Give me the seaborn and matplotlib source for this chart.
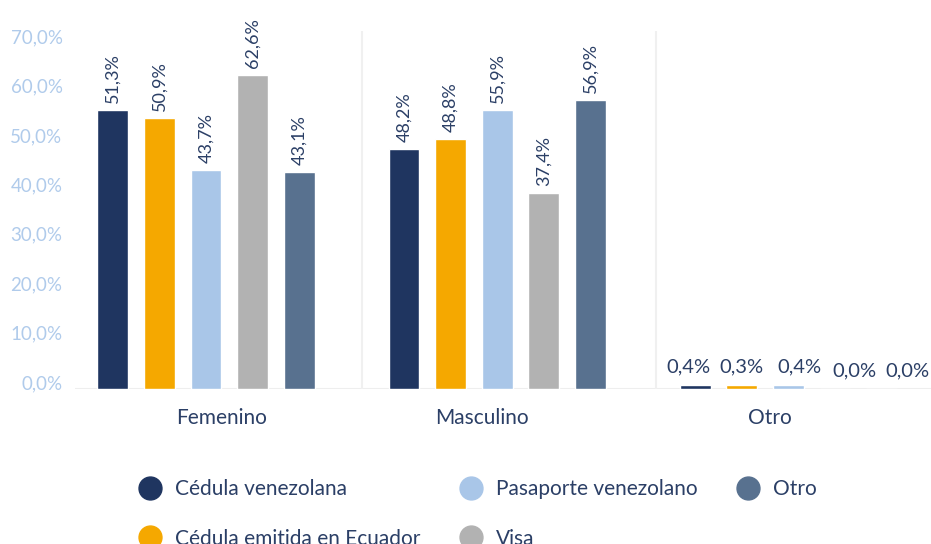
import matplotlib
matplotlib.use("Agg")
import matplotlib.pyplot as plt
import matplotlib.transforms as mtransforms
from matplotlib.lines import Line2D
import pandas as pd
import seaborn as sns

# categories and series
grupos = ["Femenino", "Masculino", "Otro"]
tipos = ["Cédula venezolana", "Cédula emitida en Ecuador", "Pasaporte venezolano", "Visa", "Otro"]
colores = ["#1f3560", "#f5a800", "#a9c6e8", "#b2b2b2", "#58718f"]

# bar heights as drawn in the picture (per tipo, over grupos)
cedula_ven = [56.5, 48.6, 0.8]
cedula_ecu = [54.9, 50.6, 0.8]
pasaporte = [44.3, 56.5, 0.8]
visa = [63.6, 39.7, 0.0]
otro = [43.9, 58.5, 0.0]

# printed labels
lbl_cedula_ven = ["51,3%", "48,2%", "0,4%"]
lbl_cedula_ecu = ["50,9%", "48,8%", "0,3%"]
lbl_pasaporte = ["43,7%", "55,9%", "0,4%"]
lbl_visa = ["62,6%", "37,4%", "0,0%"]
lbl_otro = ["43,1%", "56,9%", "0,0%"]

yticks = [0, 10, 20, 30, 40, 50, 60, 70]
ytick_labels = ["0,0%", "10,0%", "20,0%", "30,0%", "40,0%", "50,0%", "60,0%", "70,0%"]

valores = [cedula_ven, cedula_ecu, pasaporte, visa, otro]
etiquetas = [lbl_cedula_ven, lbl_cedula_ecu, lbl_pasaporte, lbl_visa, lbl_otro]

# horizontal labels in "Otro" are spread out a bit so they don't touch (px)
nudge_otro = [-7, 0, 11, 20, 26]

rows = []
for t, vals in zip(tipos, valores):
    for g, v in zip(grupos, vals):
        rows.append({"grupo": g, "tipo": t, "valor": v})
df = pd.DataFrame(rows)

sns.set_style("white")
plt.rcParams["font.family"] = ["Lato", "DejaVu Sans"]

texto = "#2b3f66"
fig = plt.figure(figsize=(9.31, 5.44), dpi=100)
ax = fig.add_axes([75 / 931, 155 / 544, 856 / 931, 358 / 544])

sns.barplot(data=df, x="grupo", y="valor", hue="tipo", hue_order=tipos,
            palette=colores, width=0.8, gap=0.34, saturation=1,
            legend=False, ax=ax)

ax.set_xlim(-0.45, 2.49)
ax.set_ylim(0, 72.5)
ax.set_xlabel("")
ax.set_ylabel("")
sns.despine(ax=ax, left=True, bottom=True)

ax.set_yticks(yticks)
ax.set_yticklabels(ytick_labels, fontsize=13.5, color="#b0cbeb")
ax.tick_params(axis="y", length=0, pad=9)
shift = mtransforms.ScaledTranslation(0, 7 / 100, fig.dpi_scale_trans)
for lab in ax.get_yticklabels():
    lab.set_transform(lab.get_transform() + shift)

# category labels sit a bit off the group centres in the original
ax.set_xticks([0.055, 0.948, 1.935])
ax.set_xticklabels(grupos)
ax.tick_params(axis="x", length=0, pad=14, labelsize=15, labelcolor=texto)

ax.axhline(0, color="#eeeeee", lw=1.5, zorder=0)
for xs in [0.536, 1.546]:
    ax.axvline(xs, color="#f0f0f0", lw=1.5, zorder=0)

# value labels
for k, (cont, labs) in enumerate(zip(ax.containers, etiquetas)):
    for i, (bar, lab) in enumerate(zip(cont, labs)):
        cx = bar.get_x() + bar.get_width() / 2
        h = bar.get_height()
        if grupos[i] == "Otro":
            ax.annotate(lab, (cx, h), xytext=(nudge_otro[k] * 0.72, 7), textcoords="offset points",
                        ha="center", va="bottom", fontsize=14.5, color=texto)
        else:
            ax.annotate(lab, (cx, h), xytext=(0, 5), textcoords="offset points",
                        ha="center", va="bottom", rotation=90, fontsize=13, color=texto)

handles = [Line2D([0], [0], marker="o", linestyle="", markersize=16.5,
                  markerfacecolor=c, markeredgecolor=c) for c in colores]
fig.legend(handles, tipos, loc="upper left", bbox_to_anchor=(138 / 931, 1 - 479 / 544),
           ncol=3, frameon=False, fontsize=15, labelcolor=texto, borderpad=0,
           handlelength=1.15, handletextpad=0.62, labelspacing=1.42, columnspacing=1.85,
           borderaxespad=0)

fig.savefig("out.png", dpi=100)
